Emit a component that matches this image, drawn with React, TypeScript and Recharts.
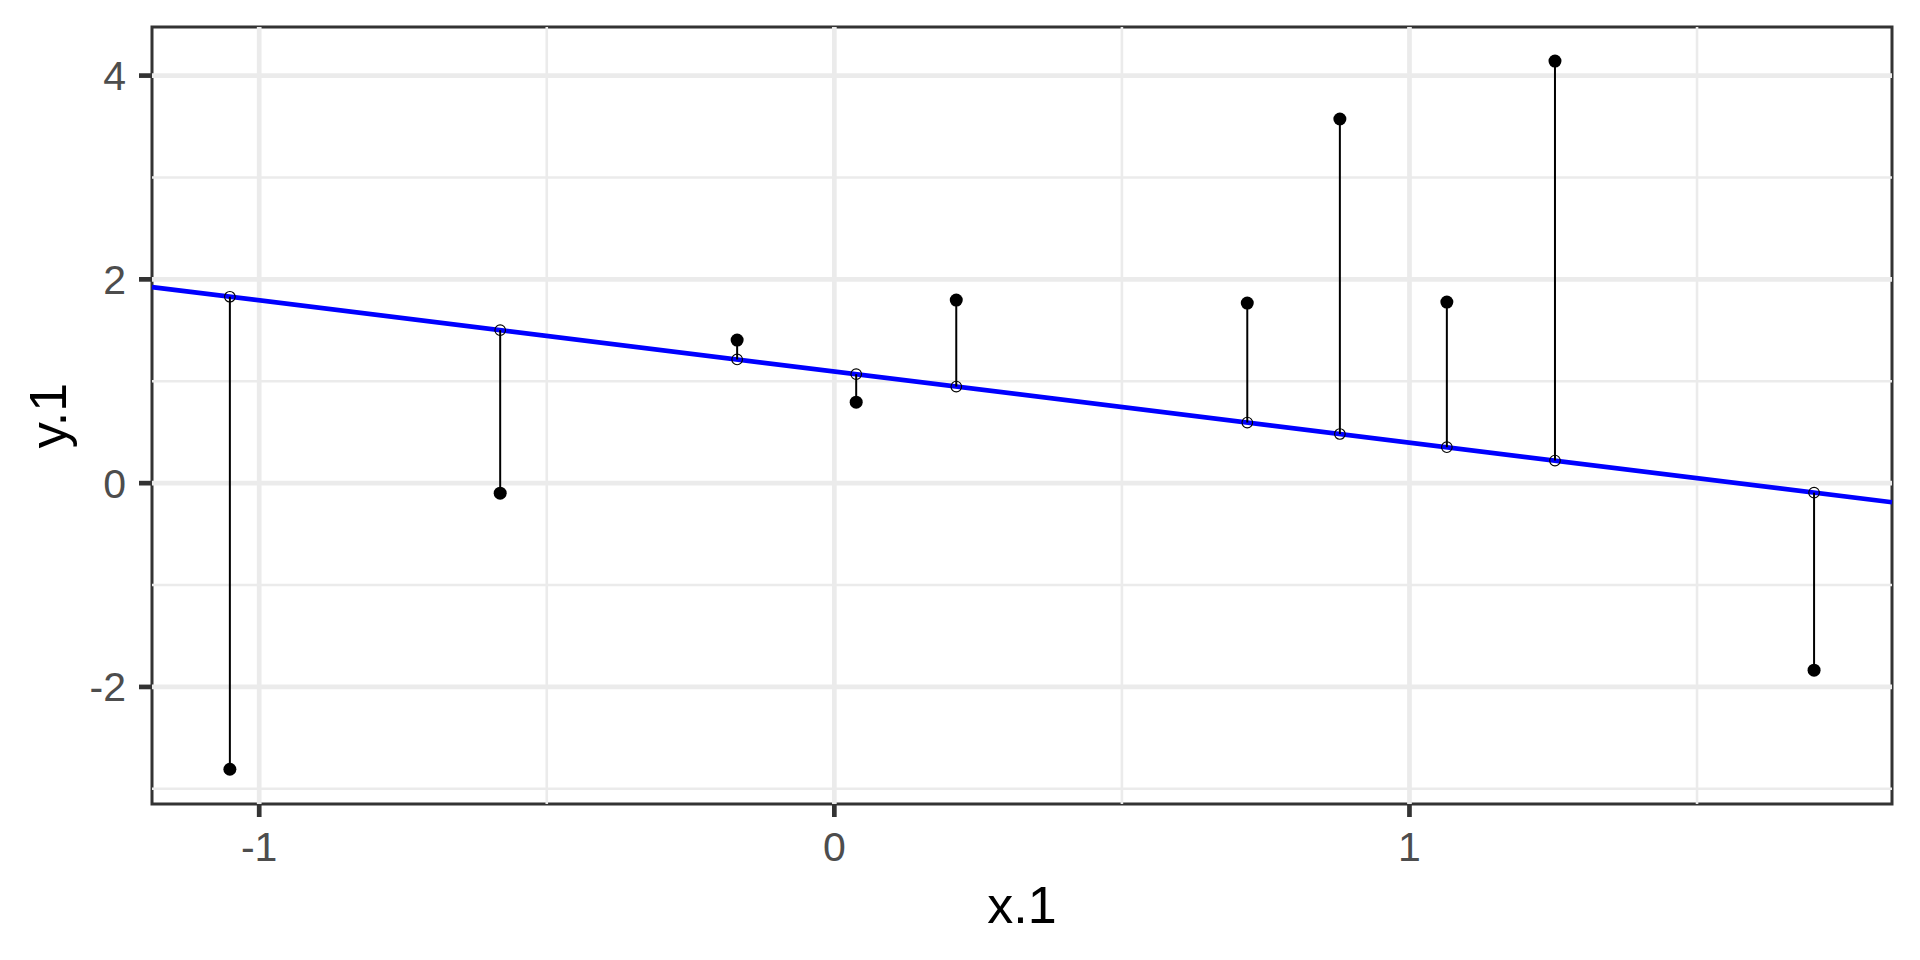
import React from 'react';
import {
  ComposedChart,
  XAxis,
  YAxis,
  Scatter,
  ReferenceLine,
  ReferenceArea,
} from 'recharts';

// ---- data ----
const xValues = [-1.051, -0.581, -0.169, 0.038, 0.212, 0.718, 0.879, 1.065, 1.253, 1.7035];
const yValues = [-2.808, -0.098, 1.404, 0.795, 1.797, 1.767, 3.574, 1.777, 4.143, -1.836];
const fitIntercept = 1.096;
const fitSlope = -0.698;

const xDomain: [number, number] = [-1.1864, 1.839];
const yDomain: [number, number] = [-3.149, 4.477];
const xTicks = [-1, 0, 1];
const yTicks = [-2, 0, 2, 4];
const xMinorGrid = [-0.5, 0.5, 1.5];
const yMinorGrid = [-3, -1, 1, 3];

const xTitle = 'x.1';
const yTitle = 'y.1';

// ---- derived tables ----
const fitted = xValues.map((x) => fitIntercept + fitSlope * x);
const observedData = xValues.map((x, i) => ({ x, y: yValues[i] }));
const fittedData = xValues.map((x, i) => ({ x, y: fitted[i] }));
const regLine = [
  { x: xDomain[0], y: fitIntercept + fitSlope * xDomain[0] },
  { x: xDomain[1], y: fitIntercept + fitSlope * xDomain[1] },
];

// ---- layout ----
const W = 1920;
const H = 960;
const PLOT_LEFT = 152;
const PLOT_TOP = 27;
const PLOT_RIGHT = 1892;
const PLOT_BOTTOM = 804;
const FONT = '"Liberation Sans", Arial, Helvetica, sans-serif';
const AXIS_TEXT = '#4D4D4D';
const DARK = '#333333';
const GRID = '#EBEBEB';

const FilledDot = (props: any) => {
  const { cx, cy } = props;
  if (cx == null || cy == null) return null;
  return <circle cx={cx} cy={cy} r={6.5} fill="#000000" stroke="none" />;
};

const OpenDot = (props: any) => {
  const { cx, cy } = props;
  if (cx == null || cy == null) return null;
  return <circle cx={cx} cy={cy} r={5.3} fill="none" stroke="#000000" strokeWidth={1.1} />;
};

const XTitle = () => (
  <text
    x={(PLOT_LEFT + PLOT_RIGHT) / 2}
    y={923}
    textAnchor="middle"
    fill="#000000"
    fontSize={52}
    fontFamily={FONT}
  >
    {xTitle}
  </text>
);

const YTitle = () => {
  const cx = 66;
  const cy = (PLOT_TOP + PLOT_BOTTOM) / 2;
  return (
    <text
      x={cx}
      y={cy}
      transform={`rotate(-90, ${cx}, ${cy})`}
      textAnchor="middle"
      fill="#000000"
      fontSize={52}
      fontFamily={FONT}
    >
      {yTitle}
    </text>
  );
};

export default function App() {
  return (
    <div style={{ position: 'absolute', left: 0, top: 0, width: W, height: H, background: '#FFFFFF' }}>
      <ComposedChart
        width={W}
        height={H}
        margin={{ top: PLOT_TOP, right: W - PLOT_RIGHT, left: 0, bottom: 0 }}
      >
        <XAxis
          type="number"
          dataKey="x"
          domain={xDomain}
          allowDataOverflow
          ticks={xTicks}
          interval={0}
          height={H - PLOT_BOTTOM}
          axisLine={false}
          tickSize={13}
          tickMargin={15}
          tickLine={{ stroke: DARK, strokeWidth: 4.7 }}
          tick={{ fill: AXIS_TEXT, fontSize: 41, fontFamily: FONT }}
          label={<XTitle />}
        />
        <YAxis
          type="number"
          dataKey="y"
          domain={yDomain}
          allowDataOverflow
          ticks={yTicks}
          interval={0}
          width={PLOT_LEFT}
          axisLine={false}
          tickSize={13}
          tickMargin={13}
          tickLine={{ stroke: DARK, strokeWidth: 4.7 }}
          tick={{ fill: AXIS_TEXT, fontSize: 41, fontFamily: FONT }}
          label={<YTitle />}
        />

        {xMinorGrid.map((v) => (
          <ReferenceLine key={`xm${v}`} x={v} stroke={GRID} strokeWidth={2.6} ifOverflow="hidden" />
        ))}
        {yMinorGrid.map((v) => (
          <ReferenceLine key={`ym${v}`} y={v} stroke={GRID} strokeWidth={2.6} ifOverflow="hidden" />
        ))}
        {xTicks.map((v) => (
          <ReferenceLine key={`xM${v}`} x={v} stroke={GRID} strokeWidth={4.7} ifOverflow="hidden" />
        ))}
        {yTicks.map((v) => (
          <ReferenceLine key={`yM${v}`} y={v} stroke={GRID} strokeWidth={4.7} ifOverflow="hidden" />
        ))}

        <ReferenceLine
          segment={regLine}
          stroke="#0000FF"
          strokeWidth={4.7}
          ifOverflow="visible"
        />

        {xValues.map((x, i) => (
          <ReferenceLine
            key={`seg${i}`}
            segment={[
              { x, y: fitted[i] },
              { x, y: yValues[i] },
            ]}
            stroke="#000000"
            strokeWidth={2}
            ifOverflow="visible"
          />
        ))}

        <Scatter data={observedData} dataKey="y" shape={<FilledDot />} isAnimationActive={false} />
        <Scatter data={fittedData} dataKey="y" shape={<OpenDot />} isAnimationActive={false} />

        <ReferenceArea
          x1={xDomain[0]}
          x2={xDomain[1]}
          y1={yDomain[0]}
          y2={yDomain[1]}
          fill="none"
          fillOpacity={0}
          stroke={DARK}
          strokeWidth={3}
          ifOverflow="visible"
        />
      </ComposedChart>
    </div>
  );
}
